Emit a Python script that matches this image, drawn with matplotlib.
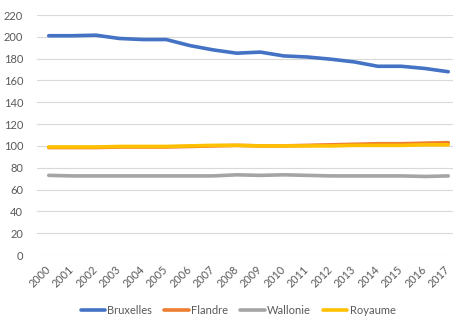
import matplotlib.pyplot as plt
import numpy as np

years = [str(y) for y in range(2000, 2018)]
bruxelles = [201, 201, 201.5, 198.5, 197.5, 197.5, 192, 188, 185, 186,
             182.5, 181.5, 179.5, 177, 173, 173, 171, 168]
flandre = [98.5, 98.5, 98.5, 99, 99, 99, 99.5, 100, 100.5, 100,
           100, 100.5, 101, 101.5, 102, 102, 102.5, 103]
wallonie = [73, 72.5, 72.5, 72.5, 72.5, 72.5, 72.5, 72.5, 73.5, 73,
            73.5, 73, 72.5, 72.5, 72.5, 72.5, 72, 72.5]
royaume = [99, 99, 99, 99.5, 99.5, 99.5, 100, 100.5, 100.5, 100,
           100, 100, 100, 100.5, 100.5, 100.5, 101, 101]

series = [
    ('Bruxelles', bruxelles, '#4472C4'),
    ('Flandre', flandre, '#ED7D31'),
    ('Wallonie', wallonie, '#A5A5A5'),
    ('Royaume', royaume, '#FFC000'),
]

plt.rcParams['font.family'] = ['Lato', 'DejaVu Sans']
txt = '#595959'

fig = plt.figure(figsize=(4.53, 3.2), dpi=100)
ax = fig.add_axes([37 / 453, 65 / 320, 423 / 453, 240 / 320])

x = np.arange(len(years))
for name, vals, col in series:
    ax.plot(x, vals, color=col, lw=2.6, label=name, solid_capstyle='round')

ax.set_xlim(-0.5, len(years) - 0.5)
ax.set_ylim(0, 220)
ax.set_yticks(range(0, 221, 20))
ax.set_xticks(x)
ax.set_xticklabels(years, rotation=45, ha='right', va='center',
                   rotation_mode='anchor')
ax.tick_params(axis='both', length=0, colors=txt, labelsize=8)
ax.tick_params(axis='x', pad=9, labelsize=7.8)
ax.tick_params(axis='y', pad=10)
ax.grid(axis='y', color='#D9D9D9', lw=0.8)
ax.set_axisbelow(True)
for s in ax.spines.values():
    s.set_visible(False)

leg = fig.legend(loc='center', bbox_to_anchor=(238 / 453, 10 / 320), ncol=4,
                 frameon=False, fontsize=8, handlelength=2.2, handletextpad=0.2,
                 columnspacing=1.1)
for t in leg.get_texts():
    t.set_color(txt)

fig.savefig('out.png', dpi=100)
